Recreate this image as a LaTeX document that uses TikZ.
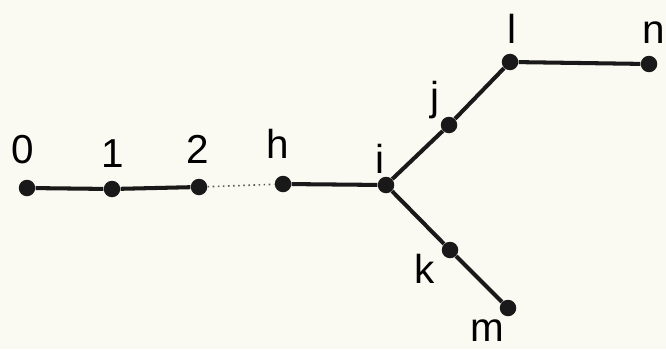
\documentclass[tikz,border=0pt]{standalone}
\usepackage{fontspec}
\setmainfont{Liberation Sans}
\usetikzlibrary{positioning}
\definecolor{paper}{RGB}{250,249,242}
\tikzset{
  vert/.style={circle, fill=black!90, inner sep=0pt, minimum size=0.33cm},
  vlabel/.style={anchor=base, inner sep=0pt, font=\fontsize{23}{27}\selectfont},
  edgeln/.style={line width=2.3pt, black!90},
  gapln/.style={line width=0.9pt, dotted, black!65},
}
\begin{document}
\begin{tikzpicture}
    % page and background
    \fill[paper] (0,0) rectangle (13.32,6.98);
    \useasboundingbox (0,0) rectangle (13.32,6.98);
    % vertices
    \node[vert] (v0) at (0.54,3.22) {};
    \node[vert] (v1) at (2.24,3.2) {};
    \node[vert] (v2) at (3.98,3.24) {};
    \node[vert] (vh) at (5.66,3.3) {};
    \node[vert] (vi) at (7.72,3.28) {};
    \node[vert] (vj) at (8.98,4.48) {};
    \node[vert] (vl) at (10.2,5.74) {};
    \node[vert] (vn) at (12.98,5.7) {};
    \node[vert] (vk) at (9.0,1.98) {};
    \node[vert] (vm) at (10.16,0.82) {};
    % edges
    \draw[edgeln] (v0) -- (v1) -- (v2);
    \draw[gapln] (v2) -- (vh);
    \draw[edgeln] (vh) -- (vi) -- (vj) -- (vl) -- (vn);
    \draw[edgeln] (vi) -- (vk) -- (vm);
    % labels
    \node[vlabel] (t0) at (0.46,3.72) {0};
    \node[vlabel] (t1) at (2.26,3.64) {1};
    \node[vlabel] (t2) at (3.96,3.72) {2};
    \node[vlabel] (th) at (5.56,3.82) {h};
    \node[vlabel] (ti) at (7.6,3.52) {i};
    \node[vlabel] (tj) at (8.7,4.78) {j};
    \node[vlabel] (tl) at (10.24,6.12) {l};
    \node[vlabel] (tn) at (13.07,6.12) {n};
    \node[vlabel] (tk) at (8.5,1.32) {k};
    \node[vlabel] (tm) at (9.74,0.15) {m};
\end{tikzpicture}
\end{document}
